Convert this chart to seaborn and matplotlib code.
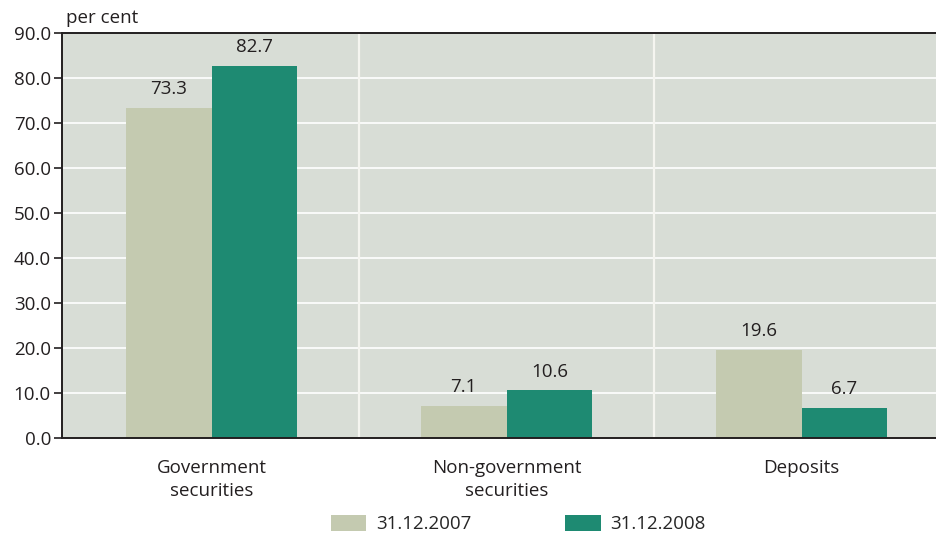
import matplotlib
matplotlib.use("Agg")
import matplotlib.pyplot as plt
import seaborn as sns
import pandas as pd
from matplotlib.patches import Patch

categories = ["Government\nsecurities", "Non-government\nsecurities", "Deposits"]
series = ["31.12.2007", "31.12.2008"]
values_2007 = [73.3, 7.1, 19.6]
values_2008 = [82.7, 10.6, 6.7]
y_ticks = [0, 10, 20, 30, 40, 50, 60, 70, 80, 90]

colors = {"31.12.2007": "#c4cab0", "31.12.2008": "#1e8a72"}
bg = "#d8ddd6"
ink = "#231f20"
fs = 13.5

df = pd.DataFrame({
    "category": categories * 2,
    "series": [series[0]] * 3 + [series[1]] * 3,
    "value": values_2007 + values_2008,
})

sns.set_theme(style="white")
plt.rcParams["font.family"] = ["Open Sans", "DejaVu Sans"]

fig = plt.figure(figsize=(9.37, 5.36), dpi=100)
ax = fig.add_axes([62 / 937, 1 - 438 / 536, 885 / 937, 405 / 536])
ax.set_facecolor(bg)

sns.barplot(data=df, x="category", y="value", hue="series", order=categories,
            hue_order=series, palette=colors, width=0.58, saturation=1,
            linewidth=0, ax=ax, legend=False)

x_left = -0.507
ax.set_xlim(x_left, x_left + 3)
ax.set_ylim(0, 90)
ax.set_yticks(y_ticks)
ax.set_yticklabels([f"{v:.1f}" for v in y_ticks], fontsize=fs, color=ink)

# horizontal gridlines and category separators
for v in y_ticks[1:-1]:
    ax.axhline(v, color="white", lw=1.2, zorder=0.5)
for xb in [0.5, 1.5]:
    ax.axvline(xb, color="#f5f5f0", lw=1.6, zorder=0.5)

ax.set_xticks(range(3))
ax.set_xticklabels(categories, fontsize=fs, color=ink, linespacing=1.35)
ax.tick_params(axis="x", which="major", length=0, pad=15)
ax.set_xticks([x_left, 0.5, 1.5], minor=True)
ax.tick_params(axis="x", which="minor", length=7, width=1.2, color=ink, direction="out")
ax.tick_params(axis="y", length=6, width=1.2, color=ink, direction="out", pad=2, left=True)

for side in ["top", "left", "bottom"]:
    ax.spines[side].set_visible(True)
    ax.spines[side].set_color(ink)
    ax.spines[side].set_linewidth(1.4)
ax.spines["right"].set_visible(False)

ax.set_xlabel("")
ax.set_ylabel("")

for cont in ax.containers:
    ax.bar_label(cont, fmt="%.1f", padding=7, fontsize=fs, color=ink)

ax.text(66 / 937, 1 - 18 / 536, "per cent", transform=fig.transFigure,
        fontsize=fs, color=ink, ha="left", va="center")

handles = [Patch(facecolor=colors[s], edgecolor="none", label=s) for s in series]
fig.legend(handles=handles, loc="center", bbox_to_anchor=(518 / 937, 1 - 524 / 536),
           ncol=2, frameon=False, fontsize=fs, handlelength=1.9, handleheight=0.95,
           columnspacing=5.0, handletextpad=0.5, borderpad=0, borderaxespad=0)

fig.savefig("out.png", dpi=100)
